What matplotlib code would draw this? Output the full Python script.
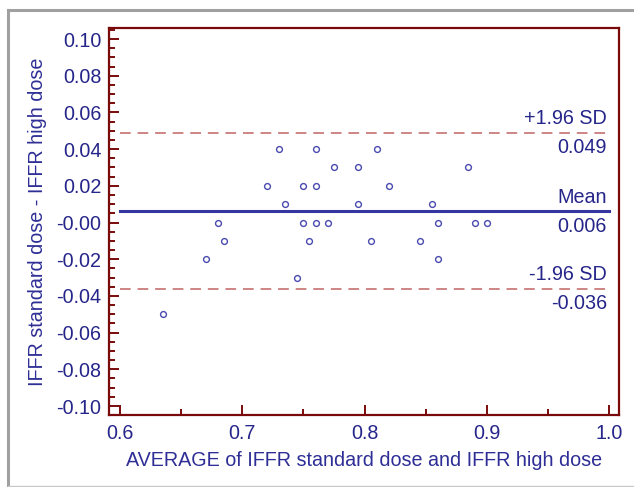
import matplotlib
matplotlib.use("Agg")
import matplotlib.pyplot as plt
from matplotlib.lines import Line2D
from matplotlib.ticker import MultipleLocator, FixedLocator

plt.rcParams['font.family'] = ['Liberation Sans', 'DejaVu Sans']

# Data (average, difference)
avg = [0.730, 0.760, 0.810, 0.775, 0.795, 0.885, 0.720, 0.750, 0.760, 0.820,
       0.735, 0.795, 0.855, 0.680, 0.750, 0.760, 0.770, 0.860, 0.890, 0.900,
       0.685, 0.755, 0.805, 0.845, 0.670, 0.860, 0.745, 0.635]
diff = [0.04, 0.04, 0.04, 0.03, 0.03, 0.03, 0.02, 0.02, 0.02, 0.02,
        0.01, 0.01, 0.01, 0.00, 0.00, 0.00, 0.00, 0.00, 0.00, 0.00,
        -0.01, -0.01, -0.01, -0.01, -0.02, -0.02, -0.03, -0.05]

mean_diff = 0.006
upper_loa = 0.049
lower_loa = -0.036

x_ticks = [0.6, 0.7, 0.8, 0.9, 1.0]
x_ticklabels = ["0.6", "0.7", "0.8", "0.9", "1.0"]
y_ticks = [-0.10, -0.08, -0.06, -0.04, -0.02, 0.00, 0.02, 0.04, 0.06, 0.08, 0.10]
y_ticklabels = ["-0.10", "-0.08", "-0.06", "-0.04", "-0.02", "-0.00",
                "0.02", "0.04", "0.06", "0.08", "0.10"]

navy = "#25258a"
spine_c = "#7a0a0a"
dash_c = "#c06464"
mean_c = "#3636a0"
marker_c = "#4a4ab0"
FS = 14.2

fig = plt.figure(figsize=(6.34, 4.87), dpi=100)
ax = fig.add_axes([109/634, 1-415/487, (619-109)/634, (415-28)/487])

ax.set_xlim(0.6 - 11/1222.5, 1.0 + 10/1222.5)
ax.set_ylim(-0.10 - 9/1835, 0.10 + 11/1835)

ax.plot(avg, diff, linestyle='none', marker='o', markersize=4.2,
        markerfacecolor='none', markeredgecolor=marker_c, markeredgewidth=1.0, zorder=3)

ax.plot([0.6, 1.0], [mean_diff, mean_diff], color=mean_c, lw=2.2, zorder=2)
for v in (upper_loa, lower_loa):
    ax.plot([0.6, 1.0], [v, v], color=dash_c, lw=1.1, dashes=(7, 4.5), zorder=2)

def lab(y, txt, above):
    ax.annotate(txt, xy=(1.0, y), xytext=(-1.5, 3 if above else -4),
                textcoords='offset points', ha='right',
                va='bottom' if above else 'top', fontsize=FS, color=navy)

lab(upper_loa, "+1.96 SD", True)
lab(upper_loa, f"{upper_loa:.3f}", False)
lab(mean_diff, "Mean", True)
lab(mean_diff, f"{mean_diff:.3f}", False)
lab(lower_loa, "-1.96 SD", True)
lab(lower_loa, f"{lower_loa:.3f}", False)

ax.xaxis.set_major_locator(FixedLocator(x_ticks))
ax.set_xticklabels(x_ticklabels)
ax.xaxis.set_minor_locator(MultipleLocator(0.05))
ax.yaxis.set_major_locator(FixedLocator(y_ticks))
ax.set_yticklabels(y_ticklabels)
ax.yaxis.set_minor_locator(MultipleLocator(0.005))

for s in ax.spines.values():
    s.set_color(spine_c)
    s.set_linewidth(1.6)

ax.tick_params(which='both', direction='in', color=spine_c, width=1.4,
               top=False, right=False)
ax.tick_params(which='major', length=7, labelsize=FS, labelcolor=navy)
ax.tick_params(which='minor', length=4)
ax.tick_params(axis='y', which='major', pad=5.5)
ax.tick_params(axis='x', which='major', pad=6.5)

ax.set_xlabel("AVERAGE of IFFR standard dose and IFFR high dose",
              fontsize=FS, color="#2e2e96", labelpad=6)
ax.set_ylabel("IFFR standard dose - IFFR high dose",
              fontsize=FS, color="#2e2e96", labelpad=7)

# outer grey frame
fig.add_artist(Line2D([8/634, 1.0], [1-10/487, 1-10/487], transform=fig.transFigure,
                      color="#a0a0a0", lw=2.2))
fig.add_artist(Line2D([8/634, 8/634], [1-10/487, 1-486/487], transform=fig.transFigure,
                      color="#a0a0a0", lw=2.2))
fig.add_artist(Line2D([8/634, 1.0], [1-486/487, 1-486/487], transform=fig.transFigure,
                      color="#c8c8c8", lw=1.0))

fig.savefig("out.png", dpi=100)
